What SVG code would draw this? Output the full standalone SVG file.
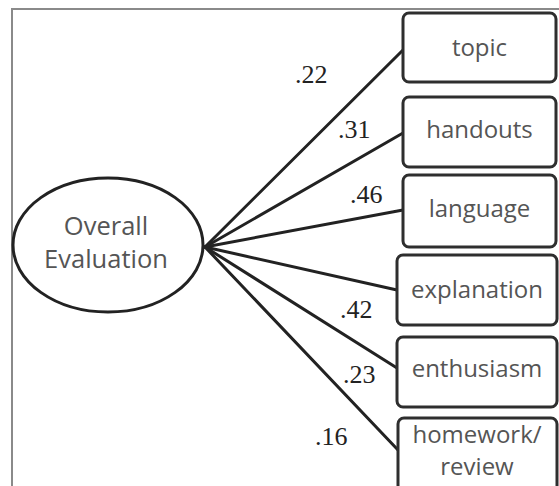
<svg xmlns="http://www.w3.org/2000/svg" width="559" height="486" viewBox="0 0 559 486">
<style>
.frame{fill:none;stroke:#8a8a8a;stroke-width:2}
.box{fill:#ffffff;stroke:#2e2e2e;stroke-width:3}
.btxt{font-family:"Open Sans","Liberation Sans",sans-serif;font-size:24px;fill:#555555;text-anchor:middle}
.etxt{font-family:"Open Sans","Liberation Sans",sans-serif;font-size:25.5px;fill:#555555;text-anchor:middle}
.conn line{stroke:#222222;stroke-width:3;stroke-linecap:round}
.lbl{font-family:"Liberation Serif","Times New Roman",serif;font-size:26px;fill:#222222}
</style>
<rect width="559" height="486" fill="#ffffff"/>
<path class="frame" d="M12,490 L12,9 L562,9"/>
<g id="connectors" class="conn">
<line x1="205" y1="247" x2="403" y2="50"/>
<line x1="205" y1="247" x2="403" y2="133"/>
<line x1="205" y1="247" x2="403" y2="210"/>
<line x1="205" y1="247" x2="397" y2="290"/>
<line x1="205" y1="247" x2="397" y2="368"/>
<line x1="205" y1="247" x2="398" y2="450"/>
</g>
<g id="overall">
<ellipse cx="108" cy="245" rx="95" ry="67" fill="#ffffff" stroke="#222222" stroke-width="3"/>
<text class="etxt" x="106" y="235">Overall</text>
<text class="etxt" x="106" y="268">Evaluation</text>
</g>
<g id="topic"><rect class="box" x="403" y="13" width="153" height="69" rx="6"/><text class="btxt" x="479.5" y="56">topic</text></g>
<g id="handouts"><rect class="box" x="403" y="97" width="153" height="70" rx="6"/><text class="btxt" x="479.5" y="138">handouts</text></g>
<g id="language"><rect class="box" x="403" y="175" width="153" height="72" rx="6"/><text class="btxt" x="479.5" y="217">language</text></g>
<g id="explanation"><rect class="box" x="397" y="255" width="160" height="70" rx="6"/><text class="btxt" x="477" y="298">explanation</text></g>
<g id="enthusiasm"><rect class="box" x="397" y="337" width="160" height="70" rx="6"/><text class="btxt" x="477" y="377">enthusiasm</text></g>
<g id="homework"><rect class="box" x="398" y="418" width="159" height="78" rx="6"/><text class="btxt" x="477" y="443">homework/</text><text class="btxt" x="477" y="475">review</text></g>
<g id="labels">
<text class="lbl" x="295" y="83">.22</text>
<text class="lbl" x="338" y="138">.31</text>
<text class="lbl" x="350" y="203">.46</text>
<text class="lbl" x="340" y="318">.42</text>
<text class="lbl" x="343" y="383">.23</text>
<text class="lbl" x="315" y="445">.16</text>
</g>
</svg>
